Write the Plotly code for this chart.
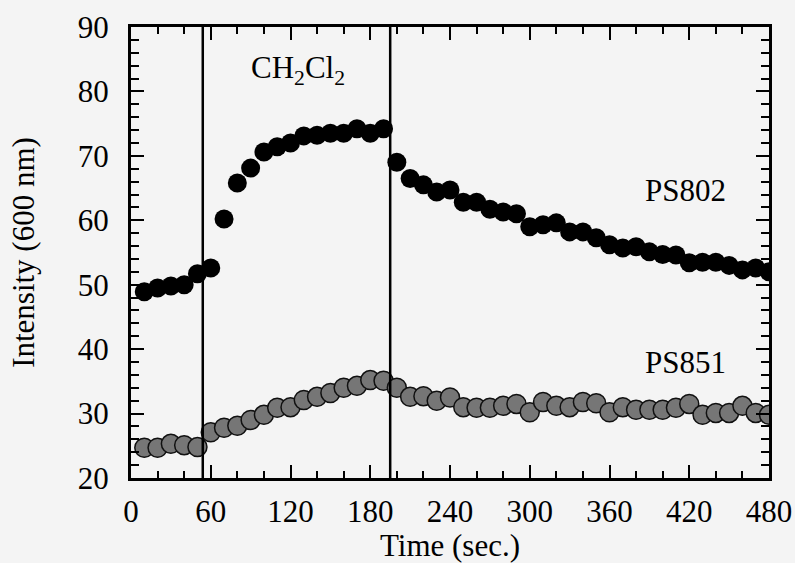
import plotly.graph_objects as go

time_s = [10, 20, 30, 40, 50, 60, 70, 80, 90, 100, 110, 120, 130, 140, 150, 160,
          170, 180, 190, 200, 210, 220, 230, 240, 250, 260, 270, 280, 290, 300,
          310, 320, 330, 340, 350, 360, 370, 380, 390, 400, 410, 420, 430, 440,
          450, 460, 470, 480]
ps802 = [48.9, 49.5, 49.8, 50.0, 51.7, 52.6, 60.2, 65.8, 68.1, 70.6, 71.4, 72.0,
         73.1, 73.2, 73.5, 73.5, 74.2, 73.5, 74.2, 69.0, 66.5, 65.5, 64.4, 64.7,
         62.8, 62.8, 61.7, 61.3, 61.0, 59.0, 59.3, 59.6, 58.2, 58.2, 57.3, 56.2,
         55.7, 55.9, 55.1, 54.7, 54.6, 53.4, 53.5, 53.5, 53.0, 52.3, 52.6, 52.0]
ps851 = [24.7, 24.7, 25.3, 25.1, 24.8, 27.1, 27.8, 28.1, 29.0, 29.8, 30.9, 31.0,
         32.1, 32.6, 33.2, 34.0, 34.3, 35.2, 35.1, 34.0, 32.6, 32.7, 32.0, 32.5,
         31.0, 30.9, 30.9, 31.2, 31.5, 30.2, 31.8, 31.2, 31.0, 31.8, 31.6, 30.2,
         31.0, 30.6, 30.6, 30.6, 30.9, 31.5, 29.8, 30.1, 30.1, 31.2, 30.1, 29.8]
event_times = [54, 195]
x_ticks = [0, 60, 120, 180, 240, 300, 360, 420, 480]
y_ticks = [20, 30, 40, 50, 60, 70, 80, 90]

FONT = "Liberation Serif, Times New Roman, serif"
BG = "#f4f4f4"
FS = 31

fig = go.Figure()
fig.add_trace(go.Scatter(x=time_s, y=ps851, mode="markers", name="PS851",
                         marker=dict(size=19, color="#767676",
                                     line=dict(color="#111", width=1.5))))
fig.add_trace(go.Scatter(x=time_s, y=ps802, mode="markers", name="PS802",
                         marker=dict(size=19, color="#000000",
                                     line=dict(color="#000", width=0))))

for t in event_times:
    fig.add_shape(type="line", xref="x", yref="paper", x0=t, x1=t, y0=0, y1=1,
                  line=dict(color="black", width=2.5))

fig.add_annotation(x=126, y=83.3, text="CH<sub>2</sub>Cl<sub>2</sub>", showarrow=False,
                   font=dict(family=FONT, size=FS, color="black"))
fig.add_annotation(x=417, y=64.7, text="PS802", showarrow=False,
                   font=dict(family=FONT, size=FS, color="black"))
fig.add_annotation(x=417, y=38.0, text="PS851", showarrow=False,
                   font=dict(family=FONT, size=FS, color="black"))

axis_common = dict(showgrid=False, zeroline=False, showline=True, linecolor="black",
                   linewidth=3, mirror="allticks", ticks="inside", ticklen=13,
                   tickwidth=2, tickcolor="black", automargin=False,
                   tickfont=dict(family=FONT, size=FS, color="black"))

fig.update_xaxes(range=[0, 480], tickvals=x_ticks, ticktext=[str(v) for v in x_ticks],
                 minor=dict(dtick=20, ticks="inside", ticklen=7, tickwidth=2, tickcolor="black"),
                 title=dict(text="Time (sec.)", font=dict(family=FONT, size=FS, color="black"),
                            standoff=2),
                 ticklabelstandoff=4, **axis_common)
fig.update_yaxes(range=[20, 90], tickvals=y_ticks, ticktext=[str(v) for v in y_ticks],
                 minor=dict(dtick=2, ticks="inside", ticklen=8, tickwidth=2, tickcolor="black"),
                 title=dict(text="Intensity (600 nm)", font=dict(family=FONT, size=FS, color="black"),
                            standoff=34),
                 ticklabelstandoff=13, **axis_common)

fig.update_layout(width=795, height=563, margin=dict(l=131, r=26, t=27, b=85),
                  paper_bgcolor=BG, plot_bgcolor=BG, showlegend=False,
                  font=dict(family=FONT, color="black"))

fig.write_html("out.html", config={"displayModeBar": False},
               post_script="document.body.style.margin='0';"
                           "document.body.style.background='#f4f4f4';"
                           "document.body.style.overflow='hidden';")
